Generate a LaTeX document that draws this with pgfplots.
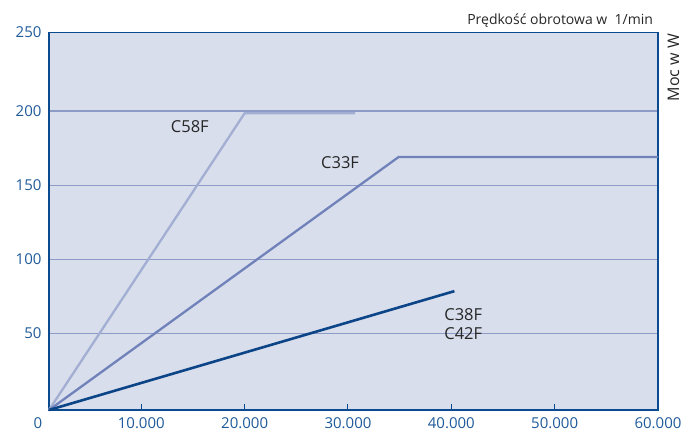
\documentclass[border=0pt]{standalone}
\usepackage{pgfplots}
\pgfplotsset{compat=1.18}
\usepackage{fontspec}
\setmainfont{Open Sans}
\definecolor{bgfill}{HTML}{D8DEEC}
\definecolor{framec}{HTML}{0B4A8E}
\definecolor{gridc}{HTML}{8D9CC7}
\definecolor{tickc}{HTML}{1F5A99}
\definecolor{cfiftyeight}{HTML}{A3AED3}
\definecolor{cthirtythree}{HTML}{7082B9}
\definecolor{cthirtyeight}{HTML}{0C4587}
\begin{document}
\begin{tikzpicture}[x=1pt,y=1pt]
\path[use as bounding box] (-49,-22) rectangle (647,410);
\begin{axis}[
  at={(0,0)}, anchor=south west,
  scale only axis, width=609pt, height=377.5pt,
  xmin=1070, xmax=60000, ymin=-1.7, ymax=253,
  axis background/.style={fill=bgfill},
  axis line style={framec, line width=1.3pt},
  xtick={10000,20000,30000,40000,50000,60000},
  xticklabels={10.000,20.000,30.000,40.000,50.000,60.000},
  ytick={50,100,150,200},
  extra y ticks={253}, extra y tick labels={250},
  extra tick style={grid=none},
  ymajorgrids, grid style={gridc, line width=1.2pt},
  tick align=inside, xtick pos=bottom, ytick pos=left,
  ytick style={draw=none},
  xtick style={framec, line width=1pt},
  major tick length=6pt,
  tick label style={font=\fontsize{15}{18}\selectfont, text=tickc},
  xticklabel style={yshift=-4pt},
  yticklabel style={xshift=-4pt},
  /pgf/number format/assume math mode=true,
  scaled x ticks=false,
  clip=false,
]
\addplot[cfiftyeight, line width=2.3pt] coordinates {(1070,-1.7) (20000,198.5) (30700,198.5)};
\addplot[cthirtythree, line width=2.3pt] coordinates {(1070,-1.7) (34900,169) (60000,169)};
\addplot[cthirtyeight, line width=2.6pt] coordinates {(1070,-1.7) (40300,78.5)};

\node[anchor=north, font=\fontsize{15}{18}\selectfont, text=tickc, yshift=-4pt] at (axis cs:0,-1.7) {0};

\node[anchor=base west, inner sep=0pt, font=\fontsize{16.5}{19}\selectfont, text=black!85] at (axis cs:12850,185.4) {C58F};
\node[anchor=base west, inner sep=0pt, font=\fontsize{16.5}{19}\selectfont, text=black!85] at (axis cs:27390,161.2) {C33F};
\node[anchor=base west, inner sep=0pt, font=\fontsize{16.5}{19}\selectfont, text=black!85] at (axis cs:39310,58.5) {C38F};
\node[anchor=base west, inner sep=0pt, font=\fontsize{16.5}{19}\selectfont, text=black!85] at (axis cs:39310,46.0) {C42F};

\node[anchor=base east, font=\fontsize{14}{17}\selectfont, text=black!85, inner sep=0pt] at (rel axis cs:0.992,1.02) {Prędkość obrotowa w\ \ 1/min};
\node[anchor=base east, rotate=90, font=\fontsize{16}{19}\selectfont, text=black!85, inner sep=0pt] at (rel axis cs:1.0345,0.997) {Moc w W};
\end{axis}
\end{tikzpicture}
\end{document}
